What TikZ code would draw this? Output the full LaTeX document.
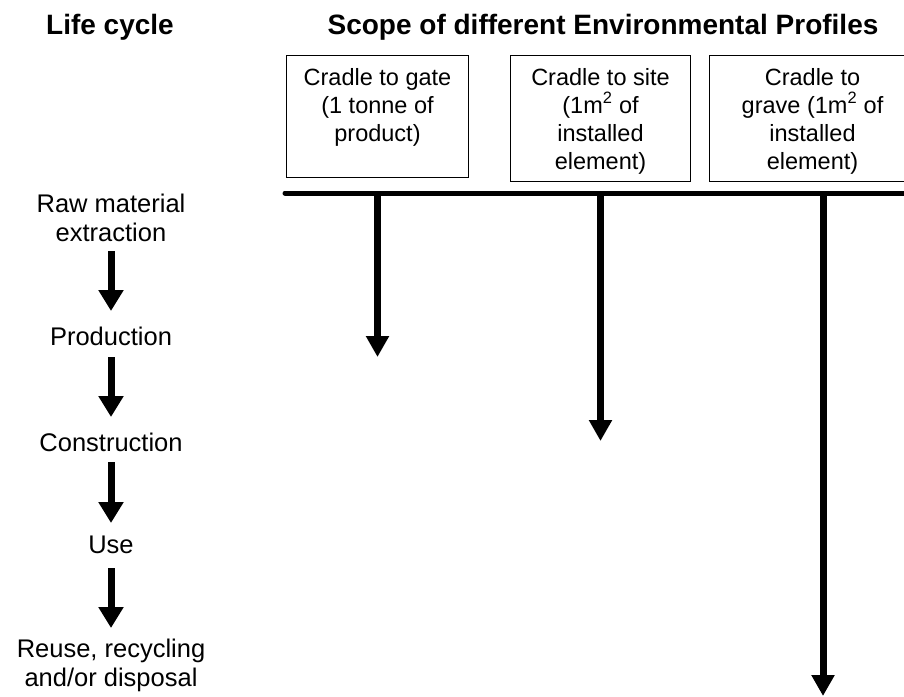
\documentclass[tikz,border=0pt]{standalone}
\usepackage{fontspec}
\setmainfont{Liberation Sans}
\usetikzlibrary{arrows.meta}
\begin{document}
\begin{tikzpicture}[x=1pt,y=-1pt,
  title/.style={font=\fontsize{28}{32}\selectfont\bfseries, inner sep=0pt, anchor=base},
  stage/.style={font=\fontsize{25.5}{28.5}\selectfont, inner sep=0pt, align=center, anchor=base},
  pbox/.style={draw, line width=1pt, inner sep=0pt, anchor=north west, font=\fontsize{23.5}{28}\selectfont},
  lcarrow/.style={line width=7pt, -{Triangle[width=24pt,length=21pt]}},
  profarrow/.style={line width=7pt, -{Triangle[width=22pt,length=21pt]}},
  bar/.style={line width=5pt, line cap=round}
]
\useasboundingbox (0,0) rectangle (904,696);

% titles
\node[title] (lc) at (110,34) {Life cycle};
\node[title] (scope) at (603,34) {Scope of different Environmental Profiles};

% life-cycle stages
\node[stage] (raw) at (111,241) {Raw material\\extraction};
\node[stage] (prod) at (111,345) {Production};
\node[stage] (cons) at (111,451) {Construction};
\node[stage] (use) at (111,553) {Use};
\node[stage] (reuse) at (111,686) {Reuse, recycling\\and/or disposal};

\draw[lcarrow] ([yshift=-10pt]raw.base) -- ([yshift=34pt]prod.base);
\draw[lcarrow] ([yshift=-12pt]prod.base) -- ([yshift=34pt]cons.base);
\draw[lcarrow] ([yshift=-11pt]cons.base) -- ([yshift=30pt]use.base);
\draw[lcarrow] ([yshift=-15pt]use.base) -- ([yshift=58pt]reuse.base);

% profile boxes
\node[pbox] (b1) at (286,55) {\parbox[t][122pt][t]{182pt}{\centering\rule{0pt}{30pt}Cradle to gate\\(1 tonne of\\product)}};
\node[pbox] (b2) at (510,55) {\parbox[t][126pt][t]{180pt}{\centering\rule{0pt}{29.5pt}Cradle to site\\(1m\textsuperscript{2} of\\installed\\element)}};
\node[pbox] (b3) at (709,55) {\parbox[t][126pt][t]{206pt}{\centering\rule{0pt}{29.5pt}Cradle to\\grave (1m\textsuperscript{2} of\\installed\\element)}};

% bar
\coordinate (barL) at (285,193);
\coordinate (barR) at (915,193);
\draw[bar] (barL) -- (barR);

% scope arrows
\coordinate (t1) at (377,357);
\coordinate (t2) at (600,441);
\coordinate (t3) at (823,696);
\draw[profarrow] (b1.south |- barL) -- (b1.south |- t1);
\draw[profarrow] (b2.south |- barL) -- (b2.south |- t2);
\draw[profarrow] (t3 |- barL) -- (t3);
\end{tikzpicture}
\end{document}
